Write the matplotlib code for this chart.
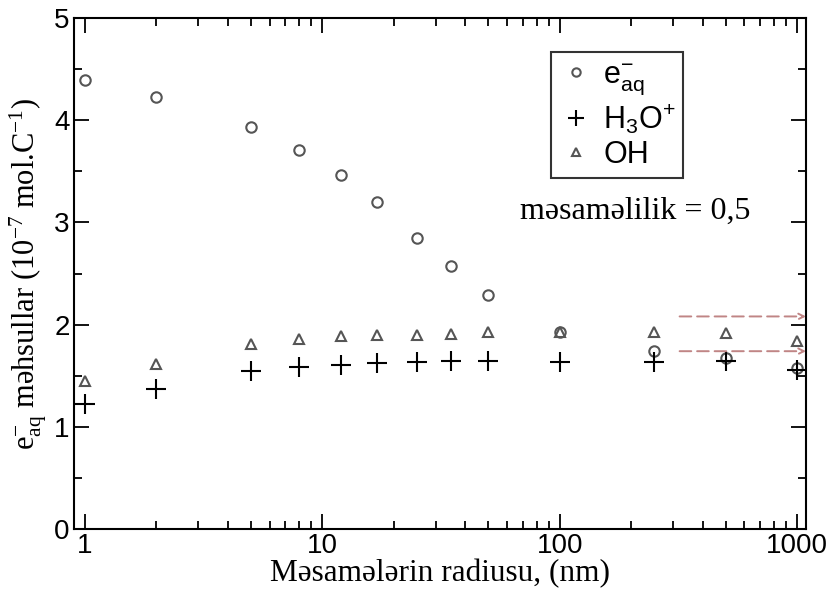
import matplotlib
matplotlib.use("Agg")
import matplotlib.pyplot as plt
from matplotlib.ticker import LogLocator, MultipleLocator, FixedLocator

# pore radius (nm)
radius = [1, 2, 5, 8, 12, 17, 25, 35, 50, 100, 250, 500, 1000]

# yields, 10^-7 mol/C
e_aq = [4.39, 4.23, 3.93, 3.71, 3.46, 3.20, 2.85, 2.57, 2.29, 1.93, 1.74, 1.67, 1.58]
h3o = [1.22, 1.37, 1.55, 1.59, 1.60, 1.62, 1.63, 1.64, 1.64, 1.63, 1.63, 1.64, 1.56]
oh = [1.45, 1.61, 1.81, 1.86, 1.89, 1.90, 1.90, 1.91, 1.93, 1.93, 1.93, 1.92, 1.84]

# bulk-water reference levels (arrows on the right)
bulk_levels = [2.08, 1.74]

x_ticks = [1, 10, 100, 1000]
x_ticklabels = ["1", "10", "100", "1000"]
y_ticks = [0, 1, 2, 3, 4, 5]

serif = "Liberation Serif"
sans = "Liberation Sans"

fig = plt.figure(figsize=(8.34, 6.05), dpi=100)
ax = fig.add_axes([0.0887, 0.1256, 0.8777, 0.8446])

ax.plot(radius, e_aq, linestyle="none", marker="o", markersize=7.5,
        markerfacecolor="none", markeredgecolor="#555555", markeredgewidth=1.5,
        label=r"$\mathregular{e^{-}_{aq}}$")
ax.plot(radius, h3o, linestyle="none", marker="+", markersize=14,
        color="black", markeredgewidth=1.5,
        label=r"$\mathregular{H_3O^{+}}$")
ax.plot(radius, oh, linestyle="none", marker="^", markersize=7,
        markerfacecolor="none", markeredgecolor="#555555", markeredgewidth=1.5,
        label="OH")

ax.set_xscale("log")
ax.set_xlim(0.9, 1090)
ax.set_ylim(0, 5)

for lvl in bulk_levels:
    ax.annotate("", xy=(1090, lvl), xytext=(320, lvl),
                arrowprops=dict(arrowstyle="->", color="#c08585", lw=1.4,
                                linestyle=(0, (6, 3)), shrinkA=0, shrinkB=0))

ax.xaxis.set_major_locator(FixedLocator(x_ticks))
ax.set_xticklabels(x_ticklabels)
ax.xaxis.set_minor_locator(LogLocator(base=10, subs=range(2, 10)))
ax.xaxis.set_minor_formatter(plt.NullFormatter())
ax.yaxis.set_major_locator(FixedLocator(y_ticks))
ax.yaxis.set_minor_locator(MultipleLocator(0.5))

ax.tick_params(which="both", direction="in", top=True, right=True, width=1.3)
ax.tick_params(which="major", length=11, labelsize=20, pad=3)
ax.tick_params(which="minor", length=6)
for lab in ax.get_xticklabels() + ax.get_yticklabels():
    lab.set_fontfamily(sans)
for sp in ax.spines.values():
    sp.set_linewidth(1.5)

ax.set_xlabel("Məsamələrin radiusu, (nm)", fontsize=22.5, family=serif, labelpad=0)
ax.set_ylabel(r"e$\mathregular{^{-}_{aq}}$ məhsullar (10$\mathregular{^{-7}}$ mol.C$\mathregular{^{-1}}$)",
              fontsize=22, family=serif, labelpad=4)

leg = ax.legend(loc="upper left", bbox_to_anchor=(0.652, 0.933), frameon=True,
                fancybox=False, edgecolor="black", markerscale=0.8,
                prop={"family": sans, "size": 22}, handletextpad=0.35,
                handlelength=1.1, borderpad=0.25, labelspacing=0.15,
                borderaxespad=0)
leg.get_frame().set_linewidth(1.5)

ax.text(0.609, 0.622, "məsaməlilik = 0,5", transform=ax.transAxes,
        fontsize=23, family=serif, va="center", ha="left")

fig.savefig("out.png", dpi=100)
